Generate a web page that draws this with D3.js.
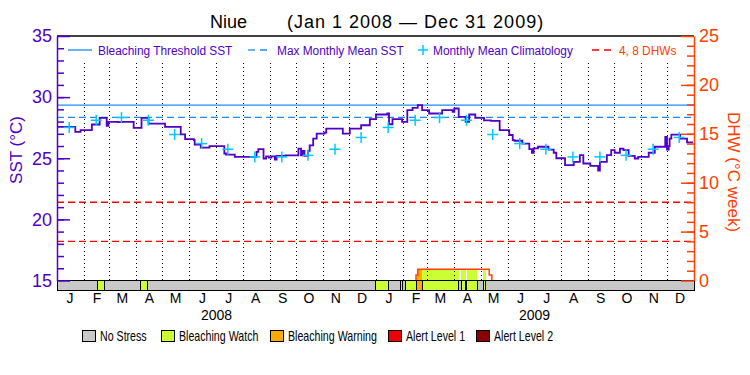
<!DOCTYPE html>
<html>
<head>
  <meta charset="utf-8">
  <script src="https://d3js.org/d3.v7.min.js"></script>
  <style>
    body { margin: 0; background: #fff; }
    text { font-family: "Liberation Sans", Arial, sans-serif; }
  </style>
</head>
<body>
<svg id="chart" width="750" height="375"></svg>
<script>
// SST readings: [day since Jan 1 2008, degC]
const sst = [
  [0, 27.57], [18, 27.57], [21, 27.16], [26, 27.16], [27, 27.30], [36, 27.30], [40, 27.76], [48, 27.76],
  [49, 28.30], [54, 28.30], [57, 27.65], [59, 27.98], [70, 27.95], [75, 27.98], [83, 27.98], [88, 27.48],
  [97, 28.30], [103, 28.30], [105, 27.84], [119, 27.84], [124, 27.57], [136, 27.57], [142, 26.95], [147, 26.56],
  [157, 26.48], [158, 26.12], [164, 26.12], [165, 25.87], [174, 25.87], [175, 26.0], [190, 26.0], [192, 25.39],
  [194, 25.30], [202, 25.30], [204, 25.11], [217, 25.11], [229, 25.52], [231, 25.74], [236, 25.74], [237, 24.98],
  [240, 25.15], [243, 25.05], [246, 25.15], [250, 24.89], [252, 25.2], [261, 25.2], [262, 25.24], [273, 25.24],
  [277, 25.79], [279, 25.79], [280, 25.24], [282, 25.6], [284, 25.2], [288, 25.6], [290, 26.06], [294, 26.61],
  [298, 27.02], [307, 27.1], [309, 27.43], [326, 27.43], [328, 27.02], [334, 27.02], [336, 27.43], [347, 27.43],
  [349, 27.70], [355, 27.70], [359, 28.2], [363, 28.2], [366, 28.58], [379, 28.66], [381, 27.78], [385, 28.2],
  [394, 28.2], [396, 27.98], [400, 27.98], [402, 28.93], [406, 28.93], [408, 29.12], [412, 29.12], [414, 29.34],
  [417, 29.34], [419, 28.93], [425, 28.93], [427, 28.66], [440, 28.66], [442, 28.93], [452, 28.93], [454, 28.80],
  [456, 29.07], [459, 29.07], [461, 28.39], [467, 28.39], [469, 27.98], [473, 28.58], [478, 28.58], [480, 28.30],
  [488, 28.30], [490, 28.1], [498, 28.05], [508, 27.30], [517, 27.30], [519, 26.9], [523, 26.48], [525, 26.43],
  [532, 26.43], [534, 26.2], [542, 25.74], [545, 25.45], [547, 25.8], [552, 25.94], [560, 25.94], [564, 25.7],
  [570, 25.45], [573, 25.0], [577, 25.0], [583, 24.43], [587, 24.43], [593, 24.7], [596, 24.7], [600, 25.25],
  [604, 24.57], [608, 24.57], [612, 24.37], [619, 24.37], [621, 23.98], [623, 24.7], [627, 24.7], [631, 25.25],
  [635, 25.25], [636, 25.66], [638, 25.66], [640, 25.45], [644, 25.45], [646, 25.79], [650, 25.66], [654, 25.66],
  [656, 25.19], [661, 25.19], [663, 24.98], [667, 25.11], [675, 25.11], [679, 25.45], [684, 25.45], [686, 25.94],
  [696, 25.94], [698, 26.75], [700, 25.7], [702, 26.0], [703, 26.61], [705, 26.94], [713, 26.94], [715, 26.61],
  [721, 26.61], [723, 26.3], [730, 26.3]
];
const climatology = [27.52, 28.11, 28.33, 28.11, 26.94, 26.20, 25.74, 25.11, 25.11, 25.24, 25.74, 26.70];
const mmm = 28.34;
const threshold = 29.34;
const dhwLines = [4, 8];
// DHW steps: [day, value from that day on]
const dhw = [[412, 0.55], [414, 1.14], [496, 0.55], [499, 0]];
// stress periods: [start day, end day, level] (1 = watch, 2 = warning)
const stress = [
  [47, 54, 1], [96, 104, 1], [366, 380, 1], [394, 397, 1], [400, 413, 1], [413, 419, 2],
  [419, 461, 1], [464, 469, 1], [470, 482, 1], [489, 492, 1]
];
const monthLetters = ["J", "F", "M", "A", "M", "J", "J", "A", "S", "O", "N", "D"];
const years = [2008, 2009];
const stressNames = ["No Stress", "Bleaching Watch", "Bleaching Warning", "Alert Level 1", "Alert Level 2"];
const stressColors = ["#c8c8c8", "#ccff33", "#ffaa00", "#ee0000", "#8b0000"];

const purple = "#5000c8", blue = "#1a8cf0", cyan = "#00c8ff", orangeRed = "#ff4000";
const svg = d3.select("#chart");
const pLeft = 57, pRight = 694, pTop = 36, base = 280.5, barH = 10;
const t0 = new Date(Date.UTC(2008, 0, 1));
const t1 = new Date(Date.UTC(2010, 0, 1));
const day = (d) => d3.utcDay.offset(t0, d);

const x = d3.scaleUtc().domain([t0, t1]).range([pLeft, pRight]);
const ySST = d3.scaleLinear().domain([15, 35]).range([base, pTop]);
const yDHW = d3.scaleLinear().domain([0, 25]).range([base, pTop]);

// title
svg.append("text").attr("x", 210).attr("y", 28).attr("font-size", 18).text("Niue");
svg.append("text").attr("x", 287).attr("y", 28).attr("font-size", 18).attr("letter-spacing", 1)
  .text("(Jan 1 2008 \u2014 Dec 31 2009)");

// DHW fill coloured by the stress level of each day
const dhwAt = (d) => { let v = 0; dhw.forEach(([s, val]) => { if (d >= s) v = val; }); return v; };
const levelAt = (d) => { let l = 0; stress.forEach(([s, e, lv]) => { if (d >= s && d < e) l = lv; }); return l; };
const dayIdx = d3.range(0, 731);
svg.append("g").attr("shape-rendering", "crispEdges")
  .selectAll("rect").data(dayIdx.filter((d) => dhwAt(d) > 0 && levelAt(d) > 0)).join("rect")
  .attr("x", (d) => x(day(d)))
  .attr("width", (d) => x(day(d + 1)) - x(day(d)) + 0.3)
  .attr("y", (d) => yDHW(dhwAt(d)))
  .attr("height", (d) => base - yDHW(dhwAt(d)))
  .attr("fill", (d) => stressColors[levelAt(d)]);

// DHW outline
svg.append("path")
  .datum([[dhw[0][0], 0], ...dhw])
  .attr("fill", "none").attr("stroke", orangeRed).attr("stroke-width", 1.5)
  .attr("d", d3.line().curve(d3.curveStepAfter).x((d) => x(day(d[0]))).y((d) => yDHW(d[1])));

// month dotted lines
const months = d3.utcMonth.range(t0, t1);
svg.append("g").selectAll("line").data(months.slice(1)).join("line")
  .attr("x1", (d) => Math.round(x(d)) + 0.5).attr("x2", (d) => Math.round(x(d)) + 0.5)
  .attr("y1", 63).attr("y2", base)
  .attr("stroke", "#000").attr("stroke-width", 1).attr("stroke-dasharray", "1,3");

// reference lines
svg.append("line").attr("x1", pLeft).attr("x2", pRight)
  .attr("y1", ySST(threshold)).attr("y2", ySST(threshold))
  .attr("stroke", blue).attr("stroke-width", 1.3);
svg.append("line").attr("x1", pLeft).attr("x2", pRight)
  .attr("y1", ySST(mmm)).attr("y2", ySST(mmm))
  .attr("stroke", blue).attr("stroke-width", 1.3).attr("stroke-dasharray", "7,4");
svg.append("g").selectAll("line").data(dhwLines).join("line")
  .attr("x1", pLeft).attr("x2", pRight)
  .attr("y1", (d) => yDHW(d)).attr("y2", (d) => yDHW(d))
  .attr("stroke", "#ff0000").attr("stroke-width", 1.3).attr("stroke-dasharray", "7,4");

// SST line
svg.append("path").datum(sst)
  .attr("fill", "none").attr("stroke", purple).attr("stroke-width", 1.8)
  .attr("d", d3.line().curve(d3.curveStepAfter).x((d) => x(day(d[0]))).y((d) => ySST(d[1])));

// climatology crosses
const clim = [];
years.forEach((yr) => climatology.forEach((v, m) => clim.push([new Date(Date.UTC(yr, m, 15)), v])));
const plus = svg.append("g").selectAll("g").data(clim).join("g")
  .attr("transform", (d) => `translate(${x(d[0])},${ySST(d[1])})`);
plus.append("line").attr("x1", -5.5).attr("x2", 5.5).attr("stroke", cyan).attr("stroke-width", 1.5);
plus.append("line").attr("y1", -5.5).attr("y2", 5.5).attr("stroke", cyan).attr("stroke-width", 1.5);

// stress bar
const bar = svg.append("g").attr("shape-rendering", "crispEdges");
bar.append("rect").attr("x", pLeft).attr("y", base).attr("width", pRight - pLeft).attr("height", barH)
  .attr("fill", stressColors[0]).attr("stroke", "#000");
bar.selectAll("rect.s").data(stress).join("rect").attr("class", "s")
  .attr("x", (d) => x(day(d[0]))).attr("width", (d) => x(day(d[1])) - x(day(d[0])))
  .attr("y", base).attr("height", barH)
  .attr("fill", (d) => stressColors[d[2]]).attr("stroke", "#000");

// top frame
svg.append("line").attr("x1", pLeft).attr("x2", pRight).attr("y1", pTop).attr("y2", pTop)
  .attr("stroke", "#000").attr("stroke-width", 1.5);

// left axis (ticks inward)
const lAxis = svg.append("g").attr("transform", `translate(${pLeft},0)`)
  .call(d3.axisLeft(ySST).tickValues([15, 20, 25, 30, 35]).tickSizeInner(-13).tickSizeOuter(0).tickPadding(5));
const lMinor = svg.append("g").attr("transform", `translate(${pLeft},0)`)
  .call(d3.axisLeft(ySST).tickValues(d3.range(16, 35)).tickSizeInner(-7).tickSizeOuter(0).tickFormat(""));
lMinor.select(".domain").remove();
[lAxis, lMinor].forEach((g) => g.selectAll("line, path").attr("stroke", purple).attr("stroke-width", 1.5));
lAxis.selectAll("text").attr("font-size", 18).attr("fill", purple).attr("font-family", "Liberation Sans, Arial, sans-serif");

// right axis (ticks inward)
const rAxis = svg.append("g").attr("transform", `translate(${pRight},0)`)
  .call(d3.axisRight(yDHW).tickValues([0, 5, 10, 15, 20, 25]).tickSizeInner(-13).tickSizeOuter(0).tickPadding(5));
const rMinor = svg.append("g").attr("transform", `translate(${pRight},0)`)
  .call(d3.axisRight(yDHW).tickValues(d3.range(1, 25)).tickSizeInner(-7).tickSizeOuter(0).tickFormat(""));
rMinor.select(".domain").remove();
[rAxis, rMinor].forEach((g) => g.selectAll("line, path").attr("stroke", orangeRed).attr("stroke-width", 1.5));
rAxis.selectAll("text").attr("font-size", 18).attr("fill", orangeRed).attr("font-family", "Liberation Sans, Arial, sans-serif");

// axis titles
svg.append("text").attr("transform", "translate(22,150) rotate(-90)").attr("text-anchor", "middle")
  .attr("font-size", 17).attr("fill", purple).text("SST (\u00b0C)");
svg.append("text").attr("transform", "translate(728,172) rotate(90)").attr("text-anchor", "middle")
  .attr("font-size", 17).attr("fill", orangeRed).text("DHW (\u00b0C week)");

// month and year labels
svg.append("g").selectAll("text").data(months).join("text")
  .attr("x", (d) => x(new Date(Date.UTC(d.getUTCFullYear(), d.getUTCMonth(), 16))))
  .attr("y", 303).attr("text-anchor", "middle").attr("font-size", 14)
  .text((d) => monthLetters[d.getUTCMonth()]);
svg.append("g").selectAll("text").data(years).join("text")
  .attr("x", (d) => x(new Date(Date.UTC(d, 6, 2))))
  .attr("y", 320).attr("text-anchor", "middle").attr("font-size", 14).text((d) => d);

// top legend
const ly = 50;
svg.append("line").attr("x1", 68).attr("x2", 92).attr("y1", ly).attr("y2", ly).attr("stroke", blue).attr("stroke-width", 1.3);
svg.append("line").attr("x1", 248).attr("x2", 272).attr("y1", ly).attr("y2", ly).attr("stroke", blue).attr("stroke-width", 1.3).attr("stroke-dasharray", "7,5");
svg.append("line").attr("x1", 418).attr("x2", 428).attr("y1", ly).attr("y2", ly).attr("stroke", cyan).attr("stroke-width", 1.5);
svg.append("line").attr("x1", 423).attr("x2", 423).attr("y1", ly - 5).attr("y2", ly + 5).attr("stroke", cyan).attr("stroke-width", 1.5);
svg.append("line").attr("x1", 592).attr("x2", 616).attr("y1", ly).attr("y2", ly).attr("stroke", "#ff0000").attr("stroke-width", 1.3).attr("stroke-dasharray", "7,5");
const legendTop = [
  ["Bleaching Threshold SST", 98, purple],
  ["Max Monthly Mean SST", 277, purple],
  ["Monthly Mean Climatology", 433, purple],
  ["4, 8 DHWs", 619, orangeRed]
];
svg.append("g").selectAll("text").data(legendTop).join("text")
  .attr("transform", (d) => `translate(${d[1]},${ly + 5}) scale(0.88,1)`)
  .attr("font-size", 13.5).attr("fill", (d) => d[2]).text((d) => d[0]);

// bottom legend
const bx = [82, 161, 270, 388, 476];
const bl = svg.append("g").selectAll("g").data(stressNames).join("g")
  .attr("transform", (d, i) => `translate(${bx[i]},330)`);
bl.append("rect").attr("x", 0.5).attr("y", 0.5).attr("width", 13).attr("height", 11)
  .attr("fill", (d, i) => stressColors[i]).attr("stroke", "#000");
bl.append("text").attr("transform", "translate(18,11) scale(0.76,1)").attr("font-size", 14).text((d) => d);
</script>
</body>
</html>
